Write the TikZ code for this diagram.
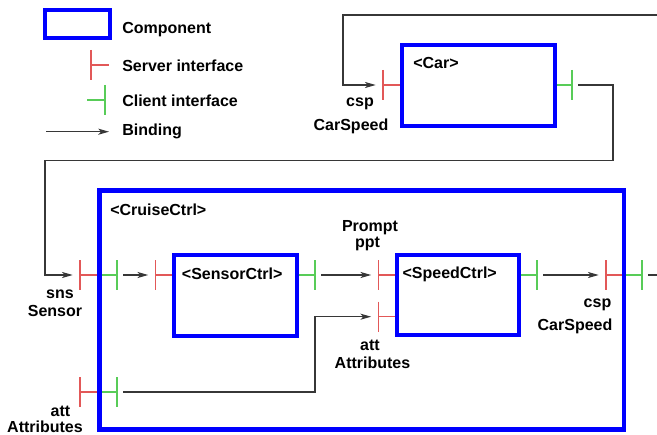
\documentclass[tikz,border=0pt]{standalone}
\usepackage{fontspec}
\setmainfont{Liberation Sans}
\usepackage{tikz}
\usetikzlibrary{arrows.meta,fit}
\definecolor{fcblue}{RGB}{0,0,255}
\definecolor{fcred}{RGB}{226,88,88}
\definecolor{fcgreen}{RGB}{88,204,88}
\definecolor{fcwire}{RGB}{55,55,55}
\newcommand{\srvif}[3]{\draw[srvline] (#2,#3-15) -- (#2,#3+15) (#2,#3) -- ++(18,0); \coordinate (#1) at (#2,#3);}
\newcommand{\cltif}[3]{\draw[cltline] (#2,#3-15) -- (#2,#3+15) (#2,#3) -- ++(-18,0); \coordinate (#1) at (#2,#3);}
\begin{document}
\begin{tikzpicture}[
  x=0.75pt, y=-0.75pt,
  font=\bfseries\fontsize{12}{14}\selectfont,
  comp/.style={draw=fcblue, line width=3pt, inner sep=0pt},
  cname/.style={anchor=base west, inner sep=0pt},
  lbl/.style={anchor=base, inner sep=0pt},
  srvline/.style={draw=fcred, line width=0.95pt},
  cltline/.style={draw=fcgreen, line width=0.95pt},
  bind/.style={draw=fcwire, line width=1pt, -{Stealth[length=8pt,width=4.5pt,inset=2pt]},
               shorten >=5.5pt, shorten <=4.5pt}
]
\useasboundingbox (0,0) rectangle (657,435);
\clip (0,0) rectangle (657,435);

\srvif{legsrv}{91}{65}
\cltif{legclt}{105}{100}
\node[comp, fit={(45,10.3) (109.5,38.3)}] (legcomp) {};
\coordinate (legstart) at (46,131.7);
\draw[bind, shorten <=0pt, shorten >=0pt] (legstart) -- ++(63,0);
\node[cname] (legcompname) at (122,33.3) {Component};
\node[cname] (legsrvname) at (122,71.7) {Server interface};
\node[cname] (legcltname) at (122,106.7) {Client interface};
\node[cname] (legbindname) at (122,136) {Binding};

\srvif{carCsp}{383}{85}
\cltif{carOut}{572}{85}
\srvif{cruiseSns}{80}{275}
\cltif{cruiseSnsIn}{117}{275}
\srvif{sensorSns}{155.5}{275}
\cltif{sensorOut}{315}{275}
\srvif{speedPpt}{378.5}{275}
\srvif{speedAtt}{378.5}{316.7}
\cltif{speedOut}{537}{275}
\srvif{cruiseCsp}{606}{275}
\cltif{cruiseOut}{642}{275}
\srvif{cruiseAtt}{80}{392}
\cltif{cruiseAttIn}{117}{392}

\node[comp, fit={(402,44.7) (554.5,125.5)}] (car) {};
\node[comp, line width=3.4pt, fit={(99.5,190.5) (624,429.5)}] (cruise) {};
\node[comp, fit={(174,255) (296.5,335.5)}] (sensor) {};
\node[comp, fit={(396.5,255.4) (519,335.4)}] (speed) {};

\node[cname] (carname) at (413,68.3) {<Car>};
\node[cname] (cruisename) at (110,215) {<CruiseCtrl>};
\node[cname] (sensorname) at (181.7,279) {<SensorCtrl>};
\node[cname] (speedname) at (402.3,278.3) {<SpeedCtrl>};

\node[lbl] (carCspA) at (360,106.7) {csp};
\node[lbl] (carCspB) at (351,130) {CarSpeed};
\node[lbl] (cruiseSnsA) at (60,298.3) {sns};
\node[lbl] (cruiseSnsB) at (55,316) {Sensor};
\node[lbl] (cruiseAttA) at (60.5,416.7) {att};
\node[lbl] (cruiseAttB) at (45,432) {Attributes};
\node[lbl] (speedPptA) at (370,231) {Prompt};
\node[lbl] (speedPptB) at (367.5,247.7) {ppt};
\node[lbl] (speedAttA) at (370,350) {att};
\node[lbl] (speedAttB) at (372.5,368) {Attributes};
\node[lbl] (cruiseCspA) at (597.5,307) {csp};
\node[lbl] (cruiseCspB) at (575,330.7) {CarSpeed};

\draw[bind] (carOut) -| (613,160.7) -| (45,275) -- (cruiseSns);
\draw[bind] (cruiseOut) -- (658,275) |- (343,15) |- (carCsp);
\draw[bind] (cruiseSnsIn) -- (sensorSns);
\draw[bind] (sensorOut) -- (speedPpt);
\draw[bind] (cruiseAttIn) -| (315,316.7) -- (speedAtt);
\draw[bind] (speedOut) -- (cruiseCsp);
\end{tikzpicture}
\end{document}
